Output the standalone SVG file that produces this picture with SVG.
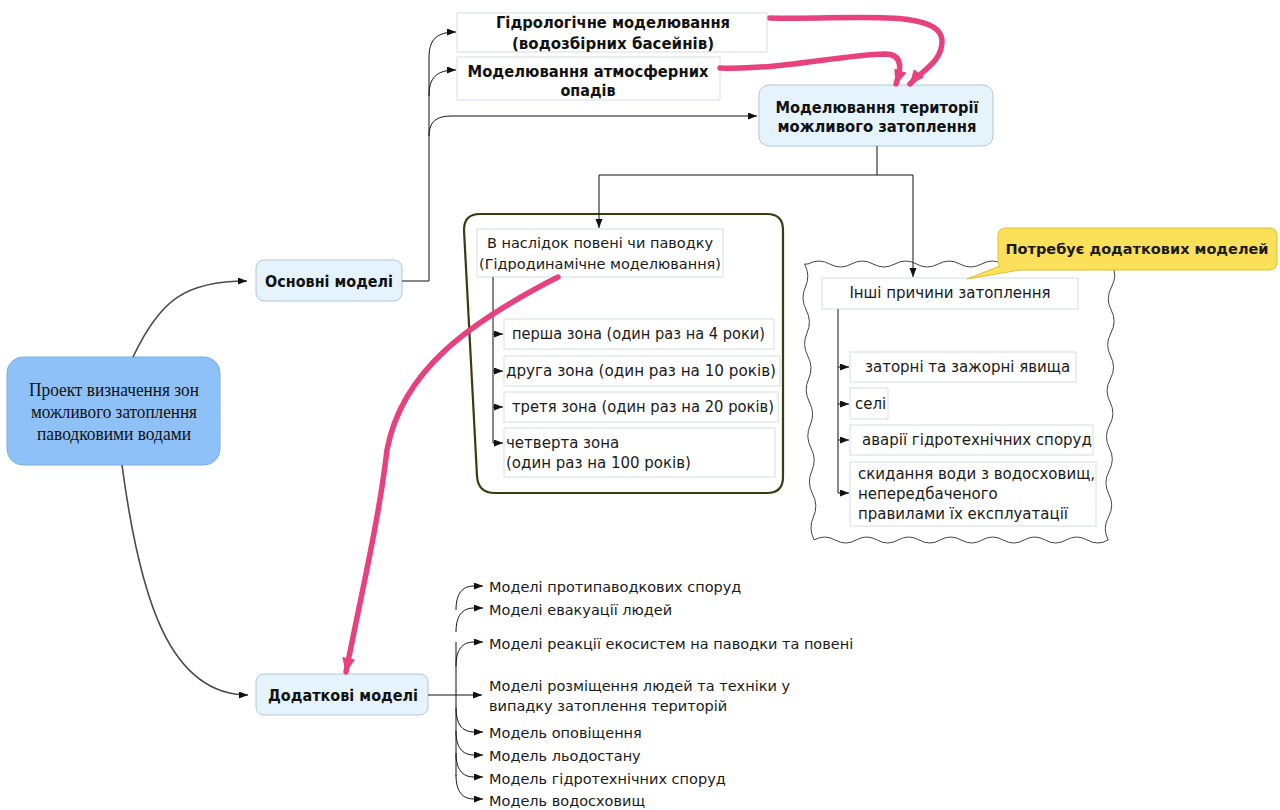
<svg xmlns="http://www.w3.org/2000/svg" width="1280" height="810" viewBox="0 0 1280 810">
<defs>
<marker id="ar" markerUnits="userSpaceOnUse" markerWidth="10" markerHeight="8" refX="9" refY="3.5" orient="auto"><path d="M0,0 L9,3.5 L0,7 z" fill="#111"/></marker>
<marker id="pk" markerUnits="userSpaceOnUse" markerWidth="16" markerHeight="14" refX="14" refY="6.5" orient="auto"><path d="M0,0 L15,6.5 L0,13 z" fill="#e8417f"/></marker>
<style>
.sans{font-family:"DejaVu Sans","Liberation Sans",sans-serif;fill:#1a1a1a}
.b{font-weight:bold;font-size:16.5px;fill:#111}
.r{font-size:14.5px}
.z{font-size:15px}
.c{text-anchor:middle}
.serif{font-family:"Liberation Serif",serif;font-size:19px;fill:#111;text-anchor:middle}
.wbox{fill:#fff;stroke:#d6dde2;stroke-width:1}
.lbox{fill:#e5f3fc;stroke:#b5c7d3;stroke-width:1}
.ln{fill:none;stroke:#111;stroke-width:1}
.gr{fill:none;stroke:#4a4a4a;stroke-width:1.6}
.pink{fill:none;stroke:#e8417f;stroke-width:5.5;stroke-linecap:round}
</style>
</defs>
<rect width="1280" height="810" fill="#fff"/>

<g id="main-node">
<rect x="7" y="357" width="213" height="108" rx="16" fill="#8ec1f8" stroke="#7badde" stroke-width="1"/>
<text class="serif" x="114" y="396" textLength="170" lengthAdjust="spacingAndGlyphs">Проект визначення зон</text>
<text class="serif" x="114" y="418" textLength="166" lengthAdjust="spacingAndGlyphs">можливого затоплення</text>
<text class="serif" x="114" y="440" textLength="154" lengthAdjust="spacingAndGlyphs">паводковими водами</text>
</g>

<g id="osnovni">
<rect class="lbox" x="256" y="260" width="146" height="41" rx="8"/>
<text class="sans b c" x="329" y="287" textLength="128" lengthAdjust="spacingAndGlyphs">Основні моделі</text>
</g>

<g id="dodatkovi">
<rect class="lbox" x="256" y="674" width="172" height="41" rx="8"/>
<text class="sans b c" x="343" y="701" textLength="150" lengthAdjust="spacingAndGlyphs">Додаткові моделі</text>
</g>

<g id="hydro">
<rect class="wbox" x="457" y="13" width="310" height="39"/>
<text class="sans b c" x="613" y="28" textLength="234" lengthAdjust="spacingAndGlyphs">Гідрологічне моделювання</text>
<text class="sans b c" x="613" y="49" textLength="202" lengthAdjust="spacingAndGlyphs">(водозбірних басейнів)</text>
</g>

<g id="atmo">
<rect class="wbox" x="457" y="57" width="263" height="43"/>
<text class="sans b c" x="588" y="77" textLength="241" lengthAdjust="spacingAndGlyphs">Моделювання атмосферних</text>
<text class="sans b c" x="588" y="96" textLength="55" lengthAdjust="spacingAndGlyphs">опадів</text>
</g>

<g id="territory">
<rect class="lbox" x="759" y="85" width="234" height="61" rx="10"/>
<text class="sans b c" x="877" y="113" textLength="203" lengthAdjust="spacingAndGlyphs">Моделювання території</text>
<text class="sans b c" x="877" y="132" textLength="199" lengthAdjust="spacingAndGlyphs">можливого затоплення</text>
</g>

<g id="flood-group">
<path d="M480,214 H767 Q783,214 783,230 V477 Q783,493 767,493 H495 Q478,493 477,476 L464,230 Q464,214 480,214 Z" fill="none" stroke="#3b3b12" stroke-width="2.2"/>
<rect class="wbox" x="477" y="229" width="246" height="48"/>
<text class="sans r c" x="600" y="248">В наслідок повені чи паводку</text>
<text class="sans r c" x="600" y="269">(Гідродинамічне моделювання)</text>
<rect class="wbox" x="504" y="319" width="270" height="30"/>
<text class="sans z" x="512" y="339" textLength="253" lengthAdjust="spacingAndGlyphs">перша зона (один раз на 4 роки)</text>
<rect class="wbox" x="504" y="356" width="276" height="30"/>
<text class="sans z" x="506" y="376" textLength="270" lengthAdjust="spacingAndGlyphs">друга зона (один раз на 10 років)</text>
<rect class="wbox" x="504" y="392" width="274" height="30"/>
<text class="sans z" x="512" y="412" textLength="262" lengthAdjust="spacingAndGlyphs">третя зона (один раз на 20 років)</text>
<rect class="wbox" x="504" y="428" width="271" height="49"/>
<text class="sans z" x="506" y="448">четверта зона</text>
<text class="sans z" x="506" y="468">(один раз на 100 років)</text>
</g>

<g id="other-group">
<path d="M808,264 q10.9,-6 21.7,0 t21.7,0 t21.7,0 t21.7,0 t21.7,0 t21.7,0 t21.7,0 t21.7,0 t21.7,0 t21.7,0 t21.7,0 t21.7,0 t21.7,0 t21.7,0 q6,11.5 -0.3,23 t-0.3,23 t-0.3,23 t-0.3,23 t-0.3,23 t-0.3,23 t-0.3,23 t-0.3,23 t-0.3,23 t-0.3,23 t-0.3,23 t-0.3,23 q-10.5,6 -21,0 t-21,0 t-21,0 t-21,0 t-21,0 t-21,0 t-21,0 t-21,0 t-21,0 t-21,0 t-21,0 t-21,0 t-21,0 t-21,0 q-6,-11.5 -0.8,-23 t-0.8,-23 t-0.8,-23 t-0.8,-23 t-0.8,-23 t-0.8,-23 t-0.8,-23 t-0.8,-23 t-0.8,-23 t-0.8,-23 t-0.8,-23 t-0.8,-23 Z" fill="#fff" stroke="#444" stroke-width="1"/>
<rect class="wbox" x="822" y="278" width="256" height="31"/>
<text class="sans z c" x="950" y="298">Інші причини затоплення</text>
<rect class="wbox" x="850" y="352" width="226" height="30"/>
<text class="sans z" x="865" y="372">заторні та зажорні явища</text>
<rect class="wbox" x="850" y="388" width="38" height="31"/>
<text class="sans z" x="855" y="409">селі</text>
<rect class="wbox" x="850" y="425" width="243" height="30"/>
<text class="sans z" x="862" y="445">аварії гідротехнічних споруд</text>
<rect class="wbox" x="850" y="462" width="246" height="64"/>
<text class="sans z" x="858" y="479">скидання води з водосховищ,</text>
<text class="sans z" x="858" y="499">непередбаченого</text>
<text class="sans z" x="858" y="519">правилами їх експлуатації</text>
</g>

<g id="callout">
<path d="M1006,228 H1269 Q1277,228 1277,236 V262 Q1277,270 1269,270 H1020 L967,279 L1000,266 Q998,264 998,262 V236 Q998,228 1006,228 Z" fill="#fbe05a" stroke="#dcbf36" stroke-width="1"/>
<text class="sans c" x="1137" y="254" font-weight="bold" font-size="14.5" fill="#111">Потребує додаткових моделей</text>
</g>

<g id="list">
<text class="sans r" x="489" y="592">Моделі протипаводкових споруд</text>
<text class="sans r" x="489" y="615">Моделі евакуації людей</text>
<text class="sans r" x="489" y="649">Моделі реакції екосистем на паводки та повені</text>
<text class="sans r" x="489" y="691">Моделі розміщення людей та техніки у</text>
<text class="sans r" x="489" y="711">випадку затоплення територій</text>
<text class="sans r" x="489" y="738">Модель оповіщення</text>
<text class="sans r" x="489" y="761">Модель льодостану</text>
<text class="sans r" x="489" y="784">Модель гідротехнічних споруд</text>
<text class="sans r" x="489" y="806">Модель водосховищ</text>
</g>

<g id="connectors">
<path class="gr" d="M133,357 C160,300 185,281 247,281" marker-end="url(#ar)"/>
<path class="gr" d="M122,465 C140,600 170,695 248,695" marker-end="url(#ar)"/>
<path class="ln" d="M402,281 H429 V58 C429,40 436,32 456,32" marker-end="url(#ar)"/>
<path class="ln" d="M429,96 C429,78 436,70 456,70" marker-end="url(#ar)"/>
<path class="ln" d="M429,136 C429,122 436,116 452,116 H757" marker-end="url(#ar)"/>
<path class="ln" d="M877,146 V175"/>
<path class="ln" d="M599,175 H913"/>
<path class="ln" d="M599,175 V228" marker-end="url(#ar)"/>
<path class="ln" d="M913,175 V277" marker-end="url(#ar)"/>
<path class="ln" d="M493,277 V443"/>
<path class="ln" d="M493,334 H503" marker-end="url(#ar)"/>
<path class="ln" d="M493,371 H503" marker-end="url(#ar)"/>
<path class="ln" d="M493,407 H503" marker-end="url(#ar)"/>
<path class="ln" d="M493,443 H503" marker-end="url(#ar)"/>
<path class="ln" d="M838,309 V493"/>
<path class="ln" d="M838,367 H849" marker-end="url(#ar)"/>
<path class="ln" d="M838,404 H849" marker-end="url(#ar)"/>
<path class="ln" d="M838,440 H849" marker-end="url(#ar)"/>
<path class="ln" d="M838,493 H849" marker-end="url(#ar)"/>
<path class="ln" d="M428,695 H482" marker-end="url(#ar)"/>
<path class="ln" d="M456,610 C456,594 462,586 474,586 H483" marker-end="url(#ar)"/>
<path class="ln" d="M456,632 C456,616 462,608 474,608 H483" marker-end="url(#ar)"/>
<path class="ln" d="M456,666 C456,650 462,642 474,642 H483" marker-end="url(#ar)"/>
<path class="ln" d="M456,642 V776"/>
<path class="ln" d="M456,708 C456,724 462,732 474,732 H483" marker-end="url(#ar)"/>
<path class="ln" d="M456,731 C456,747 462,755 474,755 H483" marker-end="url(#ar)"/>
<path class="ln" d="M456,753 C456,769 462,777 474,777 H483" marker-end="url(#ar)"/>
<path class="ln" d="M456,775 C456,791 462,799 474,799 H483" marker-end="url(#ar)"/>
</g>

<g id="pink-connectors">
<path class="pink" d="M770,18 C850,20 940,8 942,40 C943,62 920,72 910,84" marker-end="url(#pk)"/>
<path class="pink" d="M720,68 C780,70 840,55 885,54 C905,54 900,72 896,84" marker-end="url(#pk)"/>
<path class="pink" d="M558,277 C470,322 402,370 387,450 C379,520 360,600 346,672" marker-end="url(#pk)"/>
</g>
</svg>
